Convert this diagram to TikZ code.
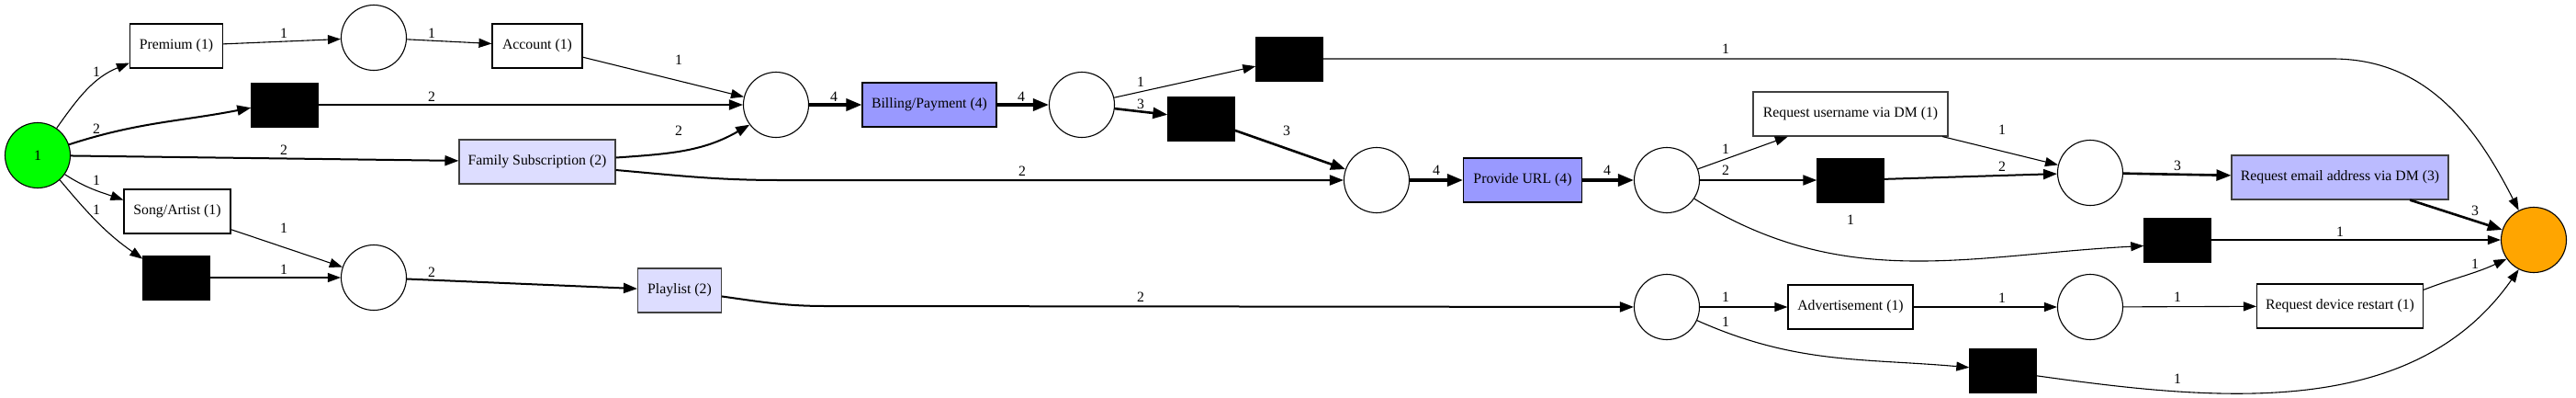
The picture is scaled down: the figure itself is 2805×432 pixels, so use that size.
\documentclass[tikz,border=0pt]{standalone}
\usepackage{fontspec}
\setmainfont{Liberation Serif}
\usetikzlibrary{arrows.meta}
\newcommand{\lblfont}{\fontsize{15.8}{18}\selectfont}
\definecolor{srcgreen}{RGB}{0,255,0}
\definecolor{sinkorange}{RGB}{255,165,0}
\definecolor{lightlav}{RGB}{221,221,255}
\definecolor{midlav}{RGB}{153,153,255}
\definecolor{emaillav}{RGB}{187,187,255}
\tikzset{
  place/.style={circle, draw=black, line width=1.1pt, minimum size=71pt, inner sep=0pt, font=\lblfont},
  trans/.style={rectangle, draw=black, line width=1.1pt, minimum height=48pt, inner sep=2pt, font=\lblfont},
  silent/.style={rectangle, fill=black, draw=black, minimum width=73pt, minimum height=48pt, inner sep=0pt},
  a1/.style={line width=1.1pt, -{Triangle[length=14pt,width=10pt]}},
  a2/.style={line width=2pt, -{Triangle[length=15pt,width=11pt]}},
  a3/.style={line width=2.6pt, -{Triangle[length=16pt,width=12pt]}},
  a4/.style={line width=3.4pt, -{Triangle[length=17pt,width=13pt]}},
  lab/.style={font=\lblfont, inner sep=0pt}
}
\begin{document}
\begin{tikzpicture}[x=1pt,y=-1pt]
\useasboundingbox (0,0) rectangle (2805,432);
% places
\node[place, fill=srcgreen] (src) at (41,169) {1};
\node[place, fill=sinkorange] (sink) at (2759,261) {};
\node[place] (p1) at (407,41) {};
\node[place] (p2) at (407,302) {};
\node[place] (p3) at (845,114) {};
\node[place] (p4) at (1178,114) {};
\node[place] (p5) at (1499,196) {};
\node[place] (p6) at (1815,196) {};
\node[place] (p7) at (1815,334) {};
\node[place] (p8) at (2276,188) {};
\node[place] (p9) at (2276,334) {};
% transitions
\node[trans, minimum width=101pt] (prem) at (192,50) {Premium (1)};
\node[trans, minimum width=98pt] (acc) at (585,50) {Account (1)};
\node[trans, minimum width=170pt, fill=lightlav, draw=black!75] (fam) at (585,176) {Family Subscription (2)};
\node[trans, minimum width=116pt] (song) at (193,230) {Song/Artist (1)};
\node[trans, minimum width=91pt, fill=lightlav, draw=black!75] (pl) at (740,316) {Playlist (2)};
\node[trans, minimum width=146pt, fill=midlav] (bill) at (1012,114) {Billing/Payment (4)};
\node[trans, minimum width=129pt, fill=midlav] (url) at (1658,196) {Provide URL (4)};
\node[trans, minimum width=212pt, draw=black!75] (user) at (2015,124) {Request username via DM (1)};
\node[trans, minimum width=136pt] (adv) at (2015,334) {Advertisement (1)};
\node[trans, minimum width=236pt, fill=emaillav, draw=black!75] (email) at (2548,193) {Request email address via DM (3)};
\node[trans, minimum width=181pt] (restart) at (2548,333) {Request device restart (1)};
% silent transitions
\node[silent] (tau1) at (310,114) {};
\node[silent] (tau2) at (192,302) {};
\node[silent] (tau3) at (1404,64) {};
\node[silent] (tau4) at (1308,129) {};
\node[silent] (tau5) at (2015,196) {};
\node[silent] (tau6) at (2371,261) {};
\node[silent] (tau7) at (2181,403) {};
% arcs
\draw[a1] (src.55) to[out=55,in=202] (prem.200) node[lab] at (105,78) {1};
\draw[a2] (src.19) to[out=18,in=191] (tau1.185) node[lab] at (105,140) {2};
\draw[a2] (src) -- (fam) node[lab] at (309,163) {2};
\draw[a1] (src.-35) to[out=-33,in=161] (song.168) node[lab] at (105,196) {1};
\draw[a1] (src.-48) to[out=-50,in=145] (tau2.151) node[lab] at (105,228) {1};
\draw[a1] (prem) -- (p1) node[lab] at (309,36) {1};
\draw[a1] (p1) -- (acc) node[lab] at (470,36) {1};
\draw[a1] (song) -- (p2) node[lab] at (309,248) {1};
\draw[a1] (tau2) -- (p2) node[lab] at (309,293) {1};
\draw[a2] (p2) -- (pl) node[lab] at (470,296) {2};
\draw[a1] (acc) -- (p3) node[lab] at (739,65) {1};
\draw[a2] (tau1) -- (p3) node[lab] at (470,105) {2};
\draw[a2] (fam.3) to[out=4,in=210] (p3.217) node[lab] at (739,142) {2};
\draw[a2] (fam.-6) to[out=-5,in=180] (850,196) -- (p5) node[lab] at (1113,186) {2};
\draw[a4] (p3) -- (bill) node[lab] at (908,105) {4};
\draw[a4] (bill) -- (p4) node[lab] at (1112,105) {4};
\draw[a1] (p4) -- (tau3) node[lab] at (1242,89) {1};
\draw[a3] (p4) -- (tau4) node[lab] at (1242,113) {3};
\draw[a3] (tau4) -- (p5) node[lab] at (1401,142) {3};
\draw[a1] (tau3.east) -- (2540,64) to[out=0,in=117] (sink.117) node[lab] at (1879,53) {1};
\draw[a4] (p5) -- (url) node[lab] at (1564,185) {4};
\draw[a4] (url) -- (p6) node[lab] at (1750,185) {4};
\draw[a1] (p6) -- (user) node[lab] at (1879,162) {1};
\draw[a2] (p6) -- (tau5) node[lab] at (1879,185) {2};
\draw[a1] (p6.-34) to[out=-32,in=183] (tau6.190) node[lab] at (2015,239) {1};
\draw[a1] (user) -- (p8) node[lab] at (2180,141) {1};
\draw[a2] (tau5) -- (p8) node[lab] at (2180,181) {2};
\draw[a3] (p8) -- (email) node[lab] at (2371,180) {3};
\draw[a3] (email) -- (sink) node[lab] at (2695,229) {3};
\draw[a1] (tau6) -- (sink) node[lab] at (2548,252) {1};
\draw[a1] (p7) -- (adv) node[lab] at (1879,323) {1};
\draw[a1] (p7.-24) to[out=-24,in=175] (tau7.175) node[lab] at (1879,350) {1};
\draw[a1] (adv) -- (p9) node[lab] at (2180,324) {1};
\draw[a1] (p9) -- (restart) node[lab] at (2371,323) {1};
\draw[a1] (restart.11) to[out=21,in=205] (sink.215) node[lab] at (2695,287) {1};
\draw[a1] (tau7.-9) to[out=-8,in=235,looseness=0.95] (sink.243) node[lab] at (2371,412) {1};
\draw[a2] (pl.-8) to[out=-8,in=180] (900,333) -- (p7) node[lab] at (1242,323) {2};
\end{tikzpicture}
\end{document}
